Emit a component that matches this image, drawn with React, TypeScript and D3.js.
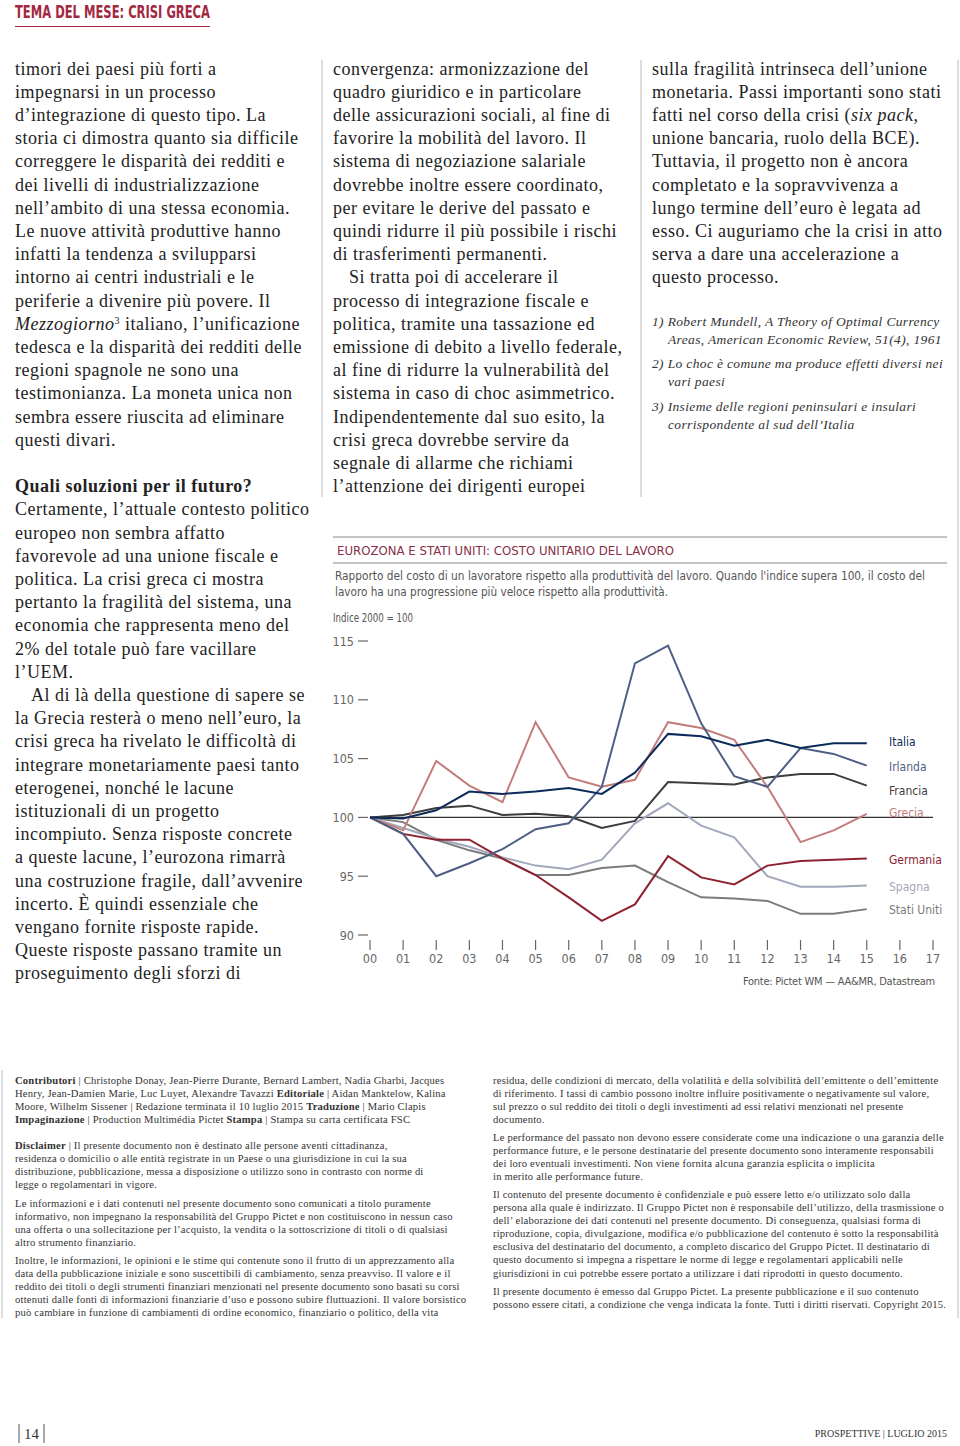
import React from "react";
import * as d3 from "d3";

// ---------- chart data ----------
const years = [0, 1, 2, 3, 4, 5, 6, 7, 8, 9, 10, 11, 12, 13, 14, 15];
const xTickLabels = ["00","01","02","03","04","05","06","07","08","09","10","11","12","13","14","15","16","17"];
const yTicks = [90, 95, 100, 105, 110, 115];

const italia = [100, 99.9, 100.6, 102.2, 102.0, 102.2, 102.5, 102.0, 103.8, 107.1, 106.9, 106.1, 106.6, 105.9, 106.3, 106.3];
const irlanda = [100, 98.6, 95.0, 96.1, 97.3, 99.0, 99.5, 102.6, 113.1, 114.6, 108.0, 103.5, 102.6, 105.9, 105.4, 104.4];
const francia = [100, 100.2, 100.8, 101.0, 100.2, 100.3, 100.1, 99.1, 99.7, 103.0, 102.9, 102.8, 103.4, 103.7, 103.7, 102.7];
const grecia = [100, 98.9, 104.8, 102.7, 101.3, 108.1, 103.4, 102.6, 103.2, 108.1, 107.6, 106.6, 102.6, 97.9, 98.9, 100.3];
const germania = [100, 98.6, 98.1, 98.1, 96.5, 95.1, 93.2, 91.2, 92.6, 96.7, 94.9, 94.3, 95.9, 96.3, 96.4, 96.5];
const spagna = [100, 99.1, 98.2, 97.5, 96.6, 95.9, 95.6, 96.4, 99.5, 101.2, 99.3, 98.3, 95.0, 94.1, 94.1, 94.2];
const statiUniti = [100, 99.6, 98.1, 97.2, 96.5, 95.1, 95.1, 95.7, 95.9, 94.5, 93.2, 93.1, 92.9, 91.8, 91.8, 92.2];

const seriesNames = ["Italia", "Irlanda", "Francia", "Grecia", "Germania", "Spagna", "Stati Uniti"];
const seriesValues = [italia, irlanda, francia, grecia, germania, spagna, statiUniti];
const seriesColors = ["#0c2b5b", "#4e5e85", "#3d3d3d", "#c27c7a", "#8e2231", "#a2a8bc", "#7b7b7b"];
const legendY = [741, 766, 790, 812, 859, 886, 909];

// ---------- page text ----------
const col1 = [
  "timori dei paesi più forti a",
  "impegnarsi in un processo",
  "d’integrazione di questo tipo. La",
  "storia ci dimostra quanto sia difficile",
  "correggere le disparità dei redditi e",
  "dei livelli di industrializzazione",
  "nell’ambito di una stessa economia.",
  "Le nuove attività produttive hanno",
  "infatti la tendenza a svilupparsi",
  "intorno ai centri industriali e le",
  "periferie a divenire più povere. Il",
  "_Mezzogiorno_^3^ italiano, l’unificazione",
  "tedesca e la disparità dei redditi delle",
  "regioni spagnole ne sono una",
  "testimonianza. La moneta unica non",
  "sembra essere riuscita ad eliminare",
  "questi divari.",
  "",
  "**Quali soluzioni per il futuro?**",
  "Certamente, l’attuale contesto politico",
  "europeo non sembra affatto",
  "favorevole ad una unione fiscale e",
  "politica. La crisi greca ci mostra",
  "pertanto la fragilità del sistema, una",
  "economia che rappresenta meno del",
  "2% del totale può fare vacillare",
  "l’UEM.",
  ">Al di là della questione di sapere se",
  "la Grecia resterà o meno nell’euro, la",
  "crisi greca ha rivelato le difficoltà di",
  "integrare monetariamente paesi tanto",
  "eterogenei, nonché le lacune",
  "istituzionali di un progetto",
  "incompiuto. Senza risposte concrete",
  "a queste lacune, l’eurozona rimarrà",
  "una costruzione fragile, dall’avvenire",
  "incerto. È quindi essenziale che",
  "vengano fornite risposte rapide.",
  "Queste risposte passano tramite un",
  "proseguimento degli sforzi di",
];
const col2 = [
  "convergenza: armonizzazione del",
  "quadro giuridico e in particolare",
  "delle assicurazioni sociali, al fine di",
  "favorire la mobilità del lavoro. Il",
  "sistema di negoziazione salariale",
  "dovrebbe inoltre essere coordinato,",
  "per evitare le derive del passato e",
  "quindi ridurre il più possibile i rischi",
  "di trasferimenti permanenti.",
  ">Si tratta poi di accelerare il",
  "processo di integrazione fiscale e",
  "politica, tramite una tassazione ed",
  "emissione di debito a livello federale,",
  "al fine di ridurre la vulnerabilità del",
  "sistema in caso di choc asimmetrico.",
  "Indipendentemente dal suo esito, la",
  "crisi greca dovrebbe servire da",
  "segnale di allarme che richiami",
  "l’attenzione dei dirigenti europei",
];
const col3 = [
  "sulla fragilità intrinseca dell’unione",
  "monetaria. Passi importanti sono stati",
  "fatti nel corso della crisi (_six pack_,",
  "unione bancaria, ruolo della BCE).",
  "Tuttavia, il progetto non è ancora",
  "completato e la sopravvivenza a",
  "lungo termine dell’euro è legata ad",
  "esso. Ci auguriamo che la crisi in atto",
  "serva a dare una accelerazione a",
  "questo processo.",
];
const footnotes = [
  ["1) Robert Mundell, A Theory of Optimal Currency", 0, 326],
  ["Areas, American Economic Review, 51(4), 1961", 16, 344],
  ["2) Lo choc è comune ma produce effetti diversi nei", 0, 368],
  ["vari paesi", 16, 386],
  ["3) Insieme delle regioni peninsulari e insulari", 0, 411],
  ["corrispondente al sud dell’Italia", 16, 429],
];
const footLeft = [
  ["**Contributori** | Christophe Donay, Jean-Pierre Durante, Bernard Lambert, Nadia Gharbi, Jacques", 1080],
  ["Henry, Jean-Damien Marie, Luc Luyet, Alexandre Tavazzi **Editoriale** | Aidan Manktelow, Kalina", 1093],
  ["Moore, Wilhelm Sissener | Redazione terminata il 10 luglio 2015 **Traduzione** | Mario Clapis", 1106],
  ["**Impaginazione** | Production Multimédia Pictet **Stampa** | Stampa su carta certificata FSC", 1119],
  ["**Disclaimer** | Il presente documento non è destinato alle persone aventi cittadinanza,", 1145],
  ["residenza o domicilio o alle entità registrate in un Paese o una giurisdizione in cui la sua", 1158],
  ["distribuzione, pubblicazione, messa a disposizione o utilizzo sono in contrasto con norme di", 1171],
  ["legge o regolamentari in vigore.", 1184],
  ["Le informazioni e i dati contenuti nel presente documento sono comunicati a titolo puramente", 1203],
  ["informativo, non impegnano la responsabilità del Gruppo Pictet e non costituiscono in nessun caso", 1216],
  ["una offerta o una sollecitazione per l’acquisto, la vendita o la sottoscrizione di titoli o di qualsiasi", 1229],
  ["altro strumento finanziario.", 1242],
  ["Inoltre, le informazioni, le opinioni e le stime qui contenute sono il frutto di un apprezzamento alla", 1260],
  ["data della pubblicazione iniziale e sono suscettibili di cambiamento, senza preavviso. Il valore e il", 1273],
  ["reddito dei titoli o degli strumenti finanziari menzionati nel presente documento sono basati su corsi", 1286],
  ["ottenuti dalle fonti di informazioni finanziarie d’uso e possono subire fluttuazioni. Il valore borsistico", 1299],
  ["può cambiare in funzione di cambiamenti di ordine economico, finanziario o politico, della vita", 1312],
];
const footRight = [
  ["residua, delle condizioni di mercato, della volatilità e della solvibilità dell’emittente o dell’emittente", 1080],
  ["di riferimento. I tassi di cambio possono inoltre influire positivamente o negativamente sul valore,", 1093],
  ["sul prezzo o sul reddito dei titoli o degli investimenti ad essi relativi menzionati nel presente", 1106],
  ["documento.", 1119],
  ["Le performance del passato non devono essere considerate come una indicazione o una garanzia delle", 1137],
  ["performance future, e le persone destinatarie del presente documento sono interamente responsabili", 1150],
  ["dei loro eventuali investimenti. Non viene fornita alcuna garanzia esplicita o implicita", 1163],
  ["in merito alle performance future.", 1176],
  ["Il contenuto del presente documento è confidenziale e può essere letto e/o utilizzato solo dalla", 1194],
  ["persona alla quale è indirizzato. Il Gruppo Pictet non è responsabile dell’utilizzo, della trasmissione o", 1207],
  ["dell’ elaborazione dei dati contenuti nel presente documento. Di conseguenza, qualsiasi forma di", 1220],
  ["riproduzione, copia, divulgazione, modifica e/o pubblicazione del contenuto è sotto la responsabilità", 1233],
  ["esclusiva del destinatario del documento, a completo discarico del Gruppo Pictet. Il destinatario di", 1246],
  ["questo documento si impegna a rispettare le norme di legge e regolamentari applicabili nelle", 1259],
  ["giurisdizioni in cui potrebbe essere portato a utilizzare i dati riprodotti in questo documento.", 1273],
  ["Il presente documento è emesso dal Gruppo Pictet. La presente pubblicazione e il suo contenuto", 1291],
  ["possono essere citati, a condizione che venga indicata la fonte. Tutti i diritti riservati. Copyright 2015.", 1304],
];

const SERIF = "'Liberation Serif', 'DejaVu Serif', serif";
const COND = "'Liberation Sans Narrow', 'DejaVu Sans Condensed', 'Roboto', sans-serif";

function renderRich(s: string, keyBase: string, supSize = 10) {
  const parts: React.ReactNode[] = [];
  const re = /(\*\*(.+?)\*\*|_(.+?)_|\^(.+?)\^)/g;
  let last = 0;
  let m: RegExpExecArray | null;
  let i = 0;
  let pendingDown = false;
  while ((m = re.exec(s))) {
    if (m.index > last) {
      parts.push(<tspan key={keyBase + i++} dy={pendingDown ? 6 : undefined}>{s.slice(last, m.index)}</tspan>);
      pendingDown = false;
    }
    if (m[2]) parts.push(<tspan key={keyBase + i++} fontWeight="bold">{m[2]}</tspan>);
    else if (m[3]) parts.push(<tspan key={keyBase + i++} fontStyle="italic">{m[3]}</tspan>);
    else if (m[4]) { parts.push(<tspan key={keyBase + i++} dy={-6} fontSize={supSize}>{m[4]}</tspan>); pendingDown = true; }
    last = m.index + m[0].length;
  }
  if (last < s.length) parts.push(<tspan key={keyBase + i++} dy={pendingDown ? 6 : undefined}>{s.slice(last)}</tspan>);
  return parts;
}

function Column({ lines, x }: { lines: string[]; x: number }) {
  return (
    <g fontFamily={SERIF} fontSize={18} letterSpacing={0.5} fill="#222">
      {lines.map((l, i) => {
        if (!l) return null;
        const indent = l.startsWith(">");
        const txt = indent ? l.slice(1) : l;
        return (
          <text key={i} x={x + (indent ? 16 : 0)} y={74.5 + i * 23.2}>
            {renderRich(txt, "c" + i)}
          </text>
        );
      })}
    </g>
  );
}

function FooterText({ lines, x }: { lines: any[]; x: number }) {
  return (
    <g fontFamily={SERIF} fontSize={10.6} letterSpacing={0.2} fill="#333">
      {lines.map(([l, y]: [string, number], i: number) => (
        <text key={i} x={x} y={y + 3.5}>{renderRich(l, "f" + i)}</text>
      ))}
    </g>
  );
}

export default function App() {
  const x = d3.scaleLinear().domain([0, 17]).range([370, 933]);
  const y = d3.scaleLinear().domain([90, 115]).range([935, 641]);
  const line = d3.line<number>().x((_, i) => x(years[i])).y((d) => y(d));

  return (
    <svg width={960} height={1446} style={{ position: "absolute", left: 0, top: 0, background: "#fff" }}>
      <rect width={960} height={1446} fill="#fff" />
      {/* header */}
      <text x={15} y={18} fontFamily={COND} fontWeight="bold" fontSize={17} fill="#a3283f" textLength={195} lengthAdjust="spacingAndGlyphs">
        TEMA DEL MESE: CRISI GRECA
      </text>
      <line x1={15} x2={210} y1={26.5} y2={26.5} stroke="#a3283f" strokeWidth={1.2} />

      {/* column rules */}
      <line x1={322} x2={322} y1={60} y2={497} stroke="#bbb" strokeWidth={1} />
      <line x1={641} x2={641} y1={60} y2={497} stroke="#bbb" strokeWidth={1} />
      <line x1={958} x2={958} y1={60} y2={1318} stroke="#bbb" strokeWidth={1} />
      <line x1={2} x2={2} y1={1070} y2={1318} stroke="#bbb" strokeWidth={1} />

      <Column lines={col1} x={15} />
      <Column lines={col2} x={333} />
      <Column lines={col3} x={652} />

      <g fontFamily={SERIF} fontStyle="italic" fontSize={13.5} letterSpacing={0.35} fill="#333">
        {footnotes.map(([t, dx, yy]: any, i) => (
          <text key={i} x={652 + dx} y={yy}>{t}</text>
        ))}
      </g>

      {/* chart header */}
      <line x1={333} x2={947} y1={537} y2={537} stroke="#888" strokeWidth={1} />
      <text x={337} y={554.5} fontFamily={COND} fontSize={12.5} fill="#8a2f45" textLength={337} lengthAdjust="spacingAndGlyphs">
        EUROZONA E STATI UNITI: COSTO UNITARIO DEL LAVORO
      </text>
      <line x1={333} x2={947} y1={563} y2={563} stroke="#888" strokeWidth={1} />
      <g fontFamily={COND} fontSize={12} fill="#555">
        <text x={335} y={579.5} textLength={590} lengthAdjust="spacingAndGlyphs">
          Rapporto del costo di un lavoratore rispetto alla produttività del lavoro. Quando l'indice supera 100, il costo del
        </text>
        <text x={335} y={595.5} textLength={333} lengthAdjust="spacingAndGlyphs">
          lavoro ha una progressione più veloce rispetto alla produttività.
        </text>
      </g>
      <text x={333} y={622} fontFamily={COND} fontSize={11.5} fill="#555" textLength={80} lengthAdjust="spacingAndGlyphs">
        Indice 2000 = 100
      </text>

      {/* y axis */}
      <g fontFamily={COND} fontSize={12.5} fill="#666">
        {yTicks.map((t) => (
          <g key={t}>
            <text x={354} y={y(t) + 4.5} textAnchor="end">{t}</text>
            <line x1={358} x2={368} y1={y(t)} y2={y(t)} stroke="#666" strokeWidth={1.2} />
          </g>
        ))}
      </g>
      {/* x axis */}
      <g fontFamily={COND} fontSize={12.5} fill="#666">
        {xTickLabels.map((l, i) => (
          <g key={l}>
            <line x1={x(i)} x2={x(i)} y1={940} y2={950} stroke="#666" strokeWidth={1.2} />
            <text x={x(i)} y={963} textAnchor="middle">{l}</text>
          </g>
        ))}
      </g>
      {/* baseline 100 */}
      <line x1={x(0)} x2={x(17)} y1={y(100)} y2={y(100)} stroke="#333" strokeWidth={1.3} />

      {/* series (draw back to front) */}
      {[6, 5, 4, 2, 3, 1, 0].map((si) => (
        <path key={si} d={line(seriesValues[si]) || ""} fill="none" stroke={seriesColors[si]} strokeWidth={2} strokeLinejoin="miter" />
      ))}
      <g fontFamily={COND} fontSize={12}>
        {seriesNames.map((n, i) => (
          <text key={n} x={889} y={legendY[i] + 4.5} fill={seriesColors[i]}>{n}</text>
        ))}
      </g>
      <text x={935} y={985} textAnchor="end" fontFamily={COND} fontSize={11} letterSpacing={-0.25} fill="#555">
        Fonte: Pictet WM — AA&amp;MR, Datastream
      </text>

      {/* footer */}
      <FooterText lines={footLeft} x={15} />
      <FooterText lines={footRight} x={493} />

      <g fontFamily={SERIF} fill="#333">
        <line x1={19} x2={19} y1={1424} y2={1443} stroke="#555" strokeWidth={1} />
        <text x={24} y={1439} fontSize={15}>14</text>
        <line x1={44} x2={44} y1={1424} y2={1443} stroke="#555" strokeWidth={1} />
        <text x={947} y={1437} textAnchor="end" fontSize={10}>PROSPETTIVE | LUGLIO 2015</text>
      </g>
    </svg>
  );
}
